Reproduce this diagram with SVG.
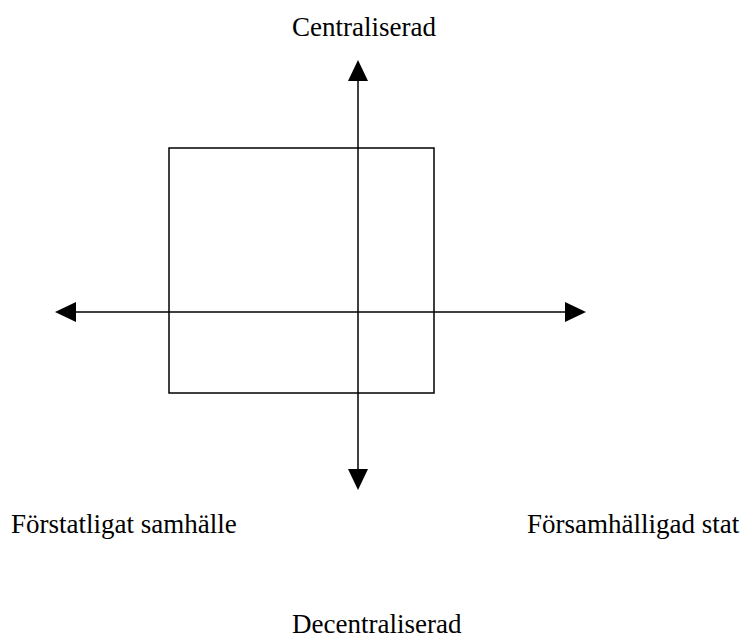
<svg xmlns="http://www.w3.org/2000/svg" width="744" height="639" viewBox="0 0 744 639">
<style>
text{font-family:"Liberation Serif","Times New Roman",serif;font-size:27px;fill:#000}
.ln{stroke:#000;stroke-width:1.5;fill:none}
</style>
<g id="box"><rect class="ln" x="169" y="148" width="265" height="245"/></g>
<g id="connectors">
<line class="ln" x1="358" y1="480" x2="358" y2="80"/>
<path d="M358,60 L348,81 L368,81 Z" fill="#000"/>
<path d="M358,490 L348,469 L368,469 Z" fill="#000"/>
<line class="ln" x1="75" y1="312" x2="566" y2="312"/>
<path d="M55,312 L76,302 L76,322 Z" fill="#000"/>
<path d="M586,312 L565,302 L565,322 Z" fill="#000"/>
</g>
<g id="label-top"><text x="292" y="36">Centraliserad</text></g>
<g id="label-left"><text x="11" y="533">Förstatligat samhälle</text></g>
<g id="label-right"><text x="527" y="533">Församhälligad stat</text></g>
<g id="label-bottom"><text x="292" y="633">Decentraliserad</text></g>
</svg>
